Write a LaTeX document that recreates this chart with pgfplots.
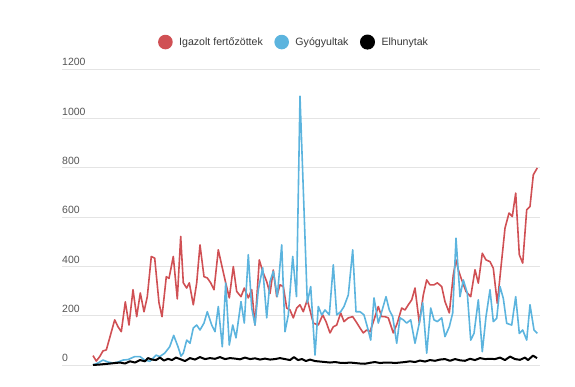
\documentclass[border=0pt]{standalone}
\usepackage{pgfplots}
\pgfplotsset{compat=1.18}
\usepackage{fontspec}
\setmainfont{Liberation Sans}
\definecolor{cred}{RGB}{208,80,84}
\definecolor{cblue}{RGB}{92,180,222}
\definecolor{cgrid}{RGB}{228,228,228}
\definecolor{ctick}{RGB}{85,85,85}
\definecolor{clegend}{RGB}{55,55,55}
\begin{document}
\begin{tikzpicture}[x=1pt,y=1pt]
\useasboundingbox (-62,-22) rectangle (513,365);
\begin{axis}[
 at={(0,0)}, anchor=south west,
 scale only axis, width=478pt, height=296pt,
 xmin=62, xmax=540, ymin=0, ymax=1200,
 clip=false,
 axis line style={draw=none},
 xtick=\empty,
 ytick={0,200,...,1200},
 ymajorgrids, grid style={cgrid, line width=0.8pt},
 major tick length=0pt,
 /pgf/number format/assume math mode=true,
 /pgf/number format/1000 sep={},
 yticklabel style={anchor=south west, font=\fontsize{10.5}{12}\selectfont, text=ctick, inner sep=0pt, yshift=3pt},
 legend columns=3,
 legend style={draw=none, fill=none, at={(0.485,1.091)}, anchor=center, font=\fontsize{10.6}{12}\selectfont, text=clegend, /tikz/every even column/.append style={column sep=9pt}},
 legend image code/.code={\path (-7pt,0pt) (11pt,0pt); \fill[#1] (0pt,0pt) circle (6.5pt);},
]
\addplot[cred, line width=1.6pt, line join=round] coordinates {
(93,38) (96.3,16) (99.7,34) (103,57) (106.3,61) (109.7,110) (114.7,183) (118,155) (121.3,135) (125.3,256)
(129,162) (133,305) (136.7,196) (140.3,292) (144,216) (147.3,277) (151.3,440) (154.7,433) (159,252) (162,196)
(166.3,358) (169,351) (173.3,440) (177.3,268) (180.7,521) (183.3,333) (186.7,312) (189.3,333) (193.3,244) (196.7,333)
(200,487) (204,358) (207.3,353) (210.7,333) (214,305) (218.3,467) (222.3,394) (225.7,333) (229.3,272) (233.3,399)
(236.7,298) (241,277) (244.3,312) (248.3,272) (251.7,305) (255,162) (259.3,426) (262.7,379) (266.7,338) (270,290)
(273.3,385) (276.7,277) (280,325) (283.3,318) (286.7,231) (290,223) (293.3,191) (296.7,231) (300,244) (303.3,216)
(307.3,264) (310.7,211) (313.3,170) (318.3,162) (322.7,203) (326,176) (330,130) (333.3,155) (336.7,162) (340.7,211)
(344,176) (348.3,191) (352.7,196) (356,176) (360,150) (363.3,130) (366.7,142) (370,135) (374,183) (378.3,237)
(381.7,196) (385,196) (388.3,191) (393.3,130) (397.3,170) (401.7,231) (405,223) (408.3,244) (411.7,264) (415,312)
(419.3,170) (423.3,284) (426.7,345) (430,325) (434,325) (437.3,333) (441.7,318) (445,257) (449.3,211) (453.3,365)
(456,426) (458.3,386) (461.7,345) (466,298) (470.7,277) (475,386) (478.3,332) (482.3,453) (486,426) (490,419)
(493.3,392) (497.3,250) (500.7,386) (505,555) (509,616) (512.3,602) (515.7,697) (519.3,447) (522.7,413) (526.7,629)
(530,643) (533.3,771) (537.3,799)
};
\addlegendentry{Igazolt fertőzöttek}
\addplot[cblue, line width=1.6pt, line join=round] coordinates {
(93,0) (98,8) (103,20) (108,12) (113,8) (118,12) (123,20) (128,22) (134.7,34) (140,34)
(144.7,20) (150,15) (156,40) (159.7,34) (164.7,48) (169.7,74) (173.7,120) (178,74) (181,36) (183.3,48)
(186.7,101) (190,88) (193.3,150) (196.7,162) (200,142) (204,170) (207.3,216) (211.7,162) (215,135) (218.3,237)
(222.3,74) (225.7,332) (229.3,81) (232.7,162) (236,110) (241,257) (244.3,170) (248.3,447) (251.7,231) (255,162)
(258.3,305) (262.7,394) (266.7,191) (270,338) (273.3,380) (277.3,277) (281.7,487) (285,135) (288.3,203) (292.7,440)
(296.5,277) (300,1090) (307.3,252) (310.7,318) (315,40) (318.3,237) (321.7,203) (325,223) (329.3,203) (333.3,406)
(336.7,203) (340.7,216) (344,237) (348.3,284) (352.7,467) (356,216) (360,216) (364,203) (367.3,155) (370.7,101)
(374,272) (378.3,170) (381.7,216) (386,277) (389.3,223) (392.7,196) (396.7,88) (400,191) (403.3,183) (406.7,170)
(410.7,183) (415,88) (419.3,170) (422.7,252) (426.7,48) (430.7,231) (434,183) (437.3,176) (441.7,191) (445,115)
(449.3,155) (452.7,211) (456,514) (460,277) (463.3,345) (467.3,291) (470.7,101) (474,128) (478.3,264) (482.3,54)
(486,196) (490,305) (493.3,176) (496.7,189) (500,318) (503.3,270) (506.7,169) (511.7,162) (515.7,277) (519.3,128)
(522.7,142) (526.7,101) (530,244) (534,142) (537.3,128)
};
\addlegendentry{Gyógyultak}
\addplot[black, line width=2pt, line join=round] coordinates {
(93,0) (100,2) (108,5) (115,8) (120,10) (125,6) (130,15) (135,10) (140,20) (145,15)
(148,28) (152,22) (156,20) (160,30) (164,18) (168,25) (172,20) (176,30) (180,24) (185,16)
(190,28) (195,22) (200,32) (205,24) (210,28) (215,25) (220,32) (225,24) (230,28) (235,26)
(240,23) (245,30) (250,24) (255,27) (260,22) (265,26) (270,22) (275,24) (280,28) (285,24)
(290,20) (294,32) (298,20) (302,24) (306,16) (310,22) (315,16) (320,14) (325,12) (330,10)
(335,12) (340,9) (345,8) (350,10) (355,8) (360,6) (365,5) (370,9) (375,12) (380,8)
(385,10) (390,10) (395,8) (400,10) (405,12) (410,15) (415,12) (420,18) (425,14) (430,20)
(435,17) (440,22) (445,24) (450,17) (455,24) (460,19) (465,17) (470,25) (475,20) (480,28)
(485,24) (490,25) (495,24) (500,30) (505,20) (510,34) (515,24) (520,21) (525,30) (528,20)
(533,38) (537,28)
};
\addlegendentry{Elhunytak}
\end{axis}
\end{tikzpicture}
\end{document}
